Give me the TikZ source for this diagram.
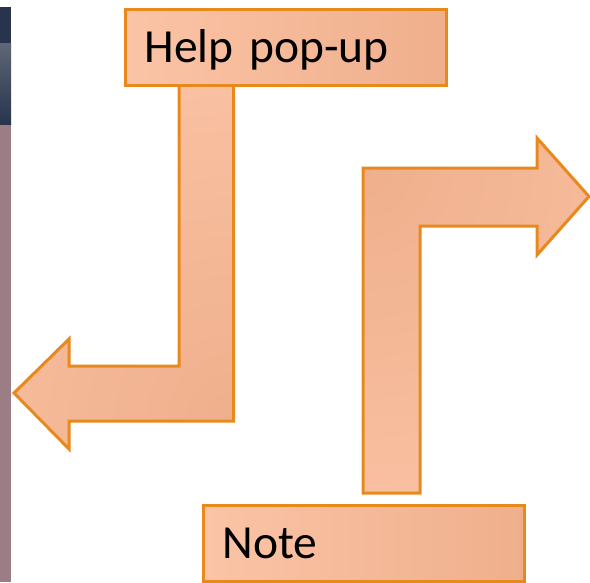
\documentclass[tikz,border=0pt]{standalone}
\usepackage{fontspec}
\setmainfont{Carlito}
\begin{document}
\begin{tikzpicture}[x=1pt,y=-1pt,line join=miter]
\definecolor{peachL}{HTML}{FBC4A6}
\definecolor{peachD}{HTML}{EFAF8C}
\definecolor{edgeor}{HTML}{E8891E}
\definecolor{stripnavy}{HTML}{27344C}
\definecolor{stripgray}{HTML}{5F6676}
\definecolor{stripmauve}{HTML}{9B7E85}
\tikzset{
  blockarrow/.style={draw=edgeor,line width=3pt},
  labelbox/.style={draw=edgeor,line width=3pt,left color=peachL,right color=peachD,
    minimum width=321pt,minimum height=76pt,anchor=north west,
    text width=283pt,inner xsep=19pt,inner ysep=0pt,align=left,
    text height=30pt,text depth=0pt,font=\fontsize{47.5}{50}\selectfont}
}
\useasboundingbox (0,0) rectangle (590,582);
% left background strip
\fill[stripnavy] (0,7) rectangle (11,43);
\shade[top color=stripgray,bottom color=stripnavy] (0,43) rectangle (11,125);
\fill[stripmauve] (0,125) rectangle (11,582);
% block arrows
\coordinate (lcorner) at (233.5,421);
\coordinate (rcorner) at (363,168);
\draw[blockarrow,path picture={\shade[inner color=peachD,outer color=peachL] (lcorner) circle (410pt);}]
  (179,80) -- (179,366) -- (69,366) -- (69,339) -- (14,393) -- (69,449)
  -- (69,421) -- (lcorner) -- (233.5,80) -- cycle;
\draw[blockarrow,path picture={\shade[inner color=peachD,outer color=peachL] (rcorner) circle (420pt);}]
  (363,493) -- (rcorner) -- (537,168) -- (537,138) -- (589,196.5) -- (537,255)
  -- (537,226) -- (420,226) -- (420,493) -- cycle;
% label boxes
\node[labelbox] (help) at (124,8) {Help pop-up};
\node[labelbox] (note) at (202,504) {Note};
\end{tikzpicture}
\end{document}
